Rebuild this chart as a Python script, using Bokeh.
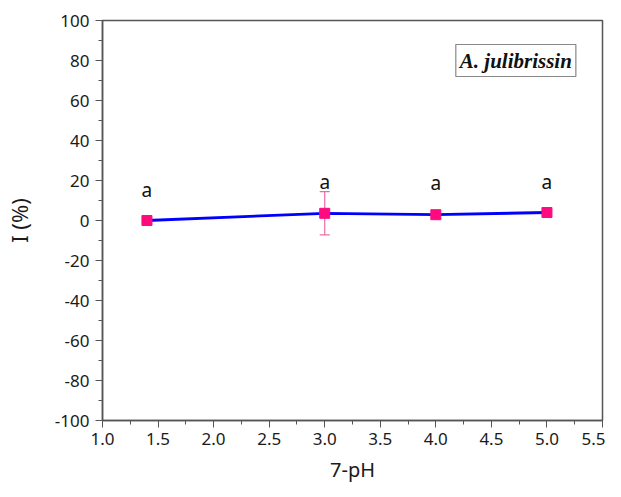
from bokeh.plotting import figure
from bokeh.models import ColumnDataSource, FixedTicker, Whisker, TeeHead, Label, Range1d, NumeralTickFormatter
from bokeh.core.properties import value
from bokeh.embed import file_html
from bokeh.resources import INLINE

# data
ph_diff = [1.4, 3.0, 4.0, 5.0]
inhibition = [0.0, 3.6, 2.9, 4.0]
errors = [0.0, 10.8, 0.0, 0.0]
sig_letters = ["a", "a", "a", "a"]
letter_y = [15.5, 19.5, 19.0, 19.5]
x_ticks = [1.0, 1.5, 2.0, 2.5, 3.0, 3.5, 4.0, 4.5, 5.0, 5.5]
y_ticks = [-100, -80, -60, -40, -20, 0, 20, 40, 60, 80, 100]
species = "A. julibrissin"

FONT = "Noto Sans"
AX = "#555555"

p = figure(width=605, height=490, output_backend="svg", toolbar_location=None,
           x_range=Range1d(1.0, 5.5), y_range=Range1d(-100, 100),
           min_border_left=102, min_border_right=3, min_border_top=20, min_border_bottom=70)
p.xgrid.visible = False
p.ygrid.visible = False
p.outline_line_color = AX
p.outline_line_width = 1.5
p.background_fill_color = "white"
p.border_fill_color = "white"

p.xaxis.ticker = FixedTicker(ticks=x_ticks, minor_ticks=[1.0 + 0.25 * i for i in range(19)])
p.yaxis.ticker = FixedTicker(ticks=y_ticks, minor_ticks=list(range(-100, 101, 10)))
p.xaxis.formatter = NumeralTickFormatter(format="0.0")
p.yaxis.major_label_overrides = {v: str(v) for v in y_ticks}
for ax in (p.xaxis, p.yaxis):
    ax.axis_line_color = AX
    ax.axis_line_width = 1.5
    ax.major_tick_line_color = AX
    ax.minor_tick_line_color = AX
    ax.major_tick_out = 7
    ax.major_tick_in = 0
    ax.minor_tick_out = 4
    ax.minor_tick_in = 0
    ax.major_label_text_font = FONT
    ax.major_label_text_font_size = "17px"
    ax.major_label_text_color = "#1a1a1a"
    ax.axis_label_text_font = FONT
    ax.axis_label_text_font_style = "normal"
    ax.axis_label_text_color = "#1a1a1a"
p.xaxis.axis_label = "7-pH"
p.yaxis.axis_label = "I (%)"
p.xaxis.axis_label_text_font_size = "20px"
p.yaxis.axis_label_text_font_size = "22px"
p.xaxis.axis_label_standoff = 8
p.yaxis.axis_label_standoff = 18
p.xaxis.major_label_standoff = 5
p.yaxis.major_label_standoff = 6

src = ColumnDataSource(dict(x=ph_diff, y=inhibition))
err_src = ColumnDataSource(dict(x=[ph_diff[i] for i in range(4) if errors[i] > 0],
                                upper=[inhibition[i] + errors[i] for i in range(4) if errors[i] > 0],
                                lower=[inhibition[i] - errors[i] for i in range(4) if errors[i] > 0]))
w = Whisker(source=err_src, base="x", upper="upper", lower="lower", dimension="height",
            line_color="#f06aa8", line_width=1.2,
            upper_head=TeeHead(size=10, line_color="#f06aa8", line_width=1.2),
            lower_head=TeeHead(size=10, line_color="#f06aa8", line_width=1.2))
p.add_layout(w)

p.line("x", "y", source=src, line_color="#0000ff", line_width=2.8)
p.scatter("x", "y", source=src, marker="square", size=10, fill_color="#ff0a7f", line_color="#ff0a7f")

lbl_src = ColumnDataSource(dict(x=ph_diff, y=letter_y, t=sig_letters))
p.text("x", "y", text="t", source=lbl_src, text_align="center", text_baseline="middle",
       text_font=value(FONT), text_font_size="19px", text_color="#111111")

legend_box = Label(x=4.72, y=80, text=species, text_align="center", text_baseline="middle",
                   text_font="Liberation Serif", text_font_style="bold italic", text_font_size="21px",
                   text_color="#111111", border_line_color="#888888", border_line_width=1.2,
                   background_fill_color="white", padding=4)
p.add_layout(legend_box)

open("out.html", "w").write(file_html(p, INLINE))
